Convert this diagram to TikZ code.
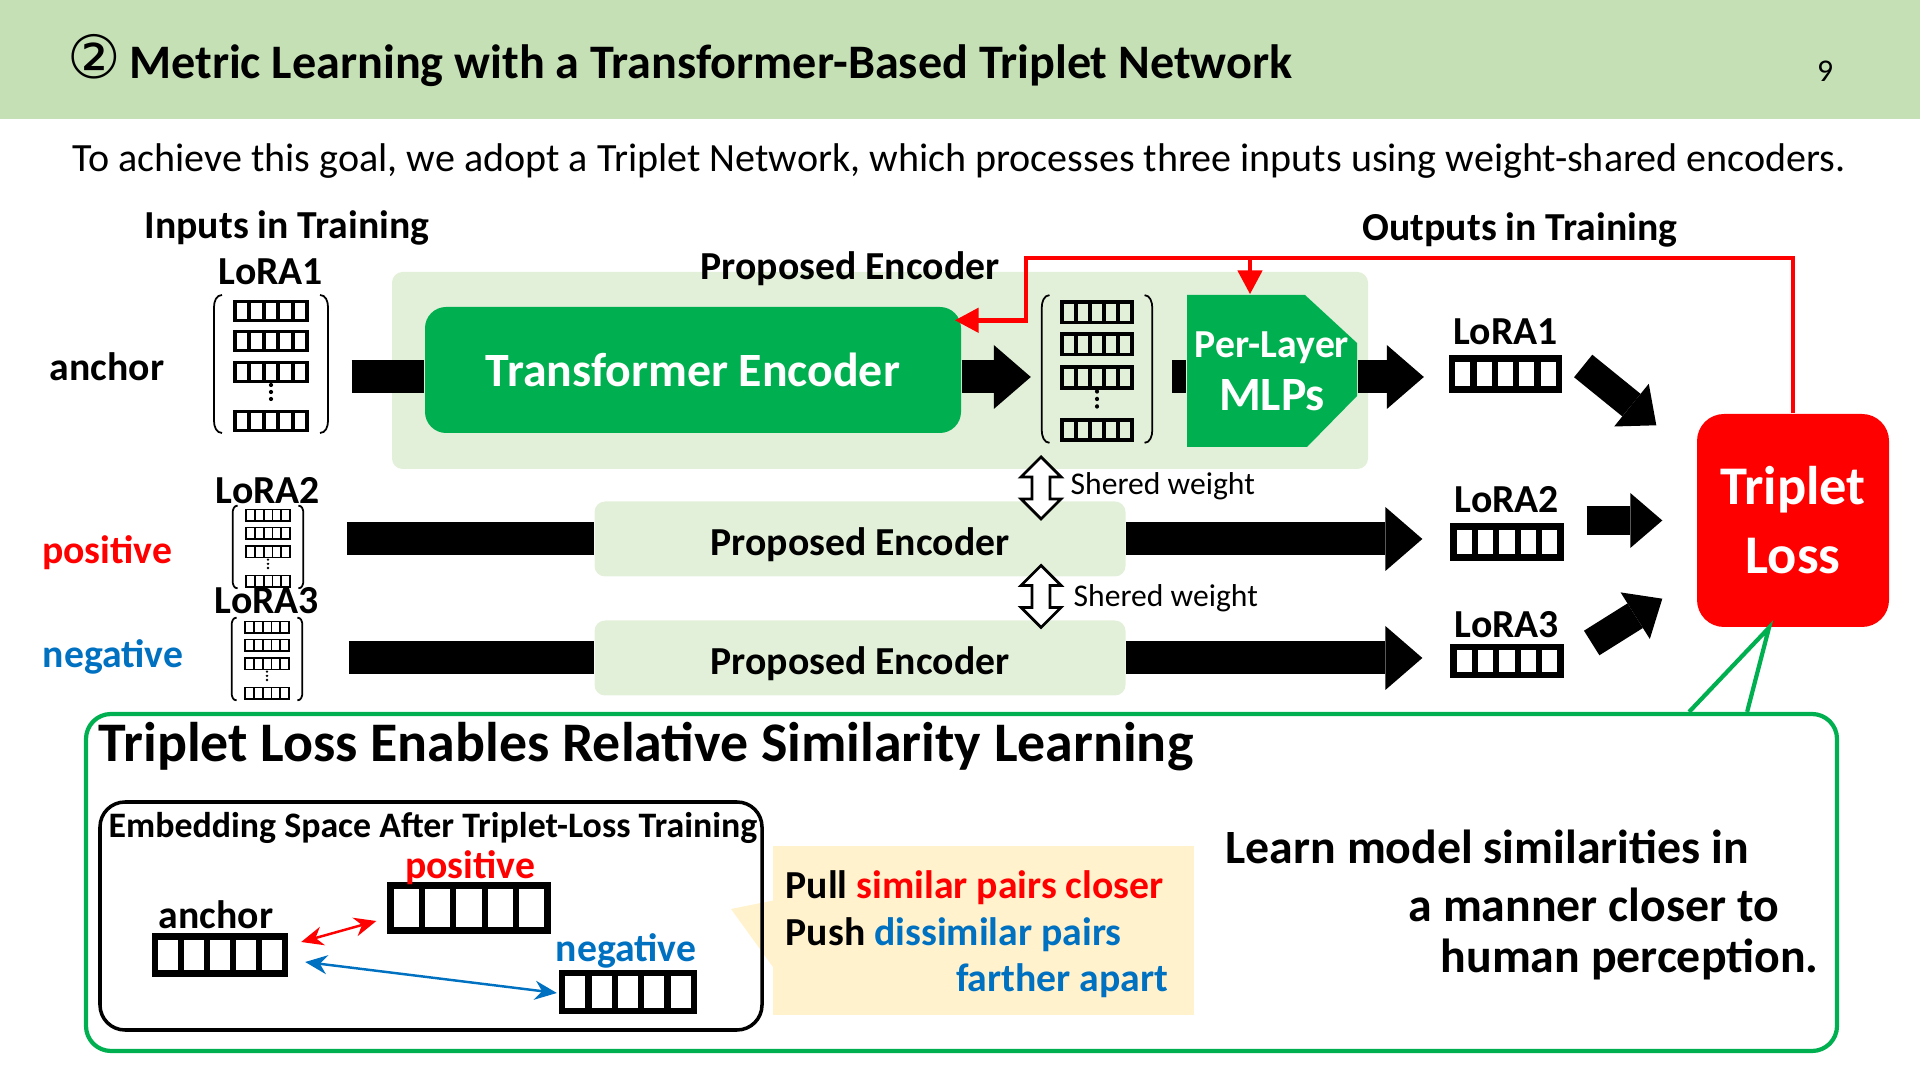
\documentclass[tikz,border=0pt]{standalone}
\usepackage{fontspec}
\setmainfont{Carlito}
\newfontfamily\circfont{DejaVu Sans}
\usepackage{tikz}
\usetikzlibrary{positioning,arrows.meta,calc}
\definecolor{headgreen}{HTML}{C5E0B4}
\definecolor{encpale}{HTML}{E2F0D9}
\definecolor{encgreen}{HTML}{00B050}
\definecolor{lossred}{HTML}{FF0000}
\definecolor{negblue}{HTML}{0070C0}
\definecolor{notebg}{HTML}{FFF2CC}
\tikzset{
  lbl/.style={inner sep=0pt, font=\bfseries\fontsize{11.3}{13}\selectfont},
  plain/.style={inner sep=0pt, font=\fontsize{11.4}{13}\selectfont},
  encbox/.style={fill=encpale, rounded corners=3pt},
  matbox/.style={inner sep=0pt, minimum width=1.14cm, minimum height=1.38cm},
  lmat/.pic={
    \foreach \ry in {0.53,0.23,-0.08,-0.57} {
      \draw (-0.36,\ry-0.095) rectangle (0.36,\ry+0.095);
      \foreach \k in {1,...,4} \draw (-0.36+0.144*\k,\ry-0.095) -- ++(0,0.19);
    }
    \foreach \dy in {-0.21,-0.28,-0.35} \fill (0,\dy) circle (0.6pt);
    \draw[line width=0.5pt] (-0.49,0.69) to[out=180,in=90] (-0.57,0.57) -- (-0.57,-0.57) to[out=-90,in=180] (-0.49,-0.69);
    \draw[line width=0.5pt] (0.49,0.69) to[out=0,in=90] (0.57,0.57) -- (0.57,-0.57) to[out=-90,in=0] (0.49,-0.69);
  },
  sharrow/.pic={
    \draw[fill=white, line width=0.8pt] (0,0.31) -- (0.2,0.11) -- (0.09,0.11) -- (0.09,-0.11) -- (0.2,-0.11) -- (0,-0.31)
      -- (-0.2,-0.11) -- (-0.09,-0.11) -- (-0.09,0.11) -- (-0.2,0.11) -- cycle;
  },
  ovec/.style={draw, line width=1.8pt, inner sep=0pt, minimum width=1.07cm, minimum height=0.31cm,
    path picture={\foreach \k in {1,...,4} \draw[line width=1.8pt]
      ($(path picture bounding box.south west)!\k/5!(path picture bounding box.south east)$) --
      ($(path picture bounding box.north west)!\k/5!(path picture bounding box.north east)$);}},
  bar/.style={line width=3.3mm},
  bigarr/.style={bar, -{Triangle[length=3.7mm, width=6.4mm, line width=0pt]}},
  midarr/.style={line width=2.9mm, -{Triangle[length=3.2mm, width=5.5mm, line width=0pt]}},
  fbline/.style={draw=lossred, line width=1.4pt},
  fbtip/.style={-{Triangle[length=2.4mm, width=2.4mm]}},
  simarr/.style={line width=0.7pt, {Stealth[length=2.2mm, width=1.9mm]}-{Stealth[length=2.2mm, width=1.9mm]}},
}
\begin{document}
\begin{tikzpicture}[x=1cm, y=1cm,
  pebox/.style={encbox, lbl, minimum width=5.31cm, minimum height=0.75cm, text height=9.5pt, text depth=0pt},
  mlpbox/.style={text=white, inner sep=0pt, minimum width=1.70cm, minimum height=1.52cm, align=center,
    font=\bfseries\fontsize{11.3}{15}\selectfont}]
  \useasboundingbox (0,0) rectangle (19.2,10.8);
  % title band and lead sentence
  \fill[headgreen] (0,9.61) rectangle (19.2,10.8);
  \node[anchor=west, inner sep=0pt, font=\bfseries\fontsize{13.7}{16}\selectfont] (title) at (0.67,10.19)
    {{\circfont\mdseries\fontsize{17}{17}\selectfont ②}\,Metric Learning with a Transformer-Based Triplet Network};
  \node[inner sep=0pt, font=\fontsize{9}{11}\selectfont] (pgno) at (18.25,10.09) {9};
  \node[plain] (lead) at (9.59,9.19) {To achieve this goal, we adopt a Triplet Network, which processes three inputs using weight-shared encoders.};
  \node[lbl] (intr) at (2.87,8.52) {Inputs in Training};
  \node[lbl] (outtr) at (15.20,8.50) {Outputs in Training};
  % anchor row: the proposed encoder in detail
  \coordinate (arow) at (0,7.03);
  \node[encbox, minimum width=9.76cm, minimum height=1.97cm] (encblk) at (8.80,7.095) {};
  \node[lbl] (enclbl) at (8.50,8.11) {Proposed Encoder};
  \node[fill=encgreen, rounded corners=6pt, minimum width=5.36cm, minimum height=1.26cm, text=white,
    font=\bfseries\fontsize{13.6}{16}\selectfont] (te) at (6.93,7.10) {Transformer Encoder\hspace{0.2cm}};
  \node[matbox] (m1) at (2.71,7.16) {};
  \pic[line width=1.1pt] at (m1) {lmat};
  \node[lbl, above=0.9mm of m1] (lin1) {LoRA1};
  \node[matbox, minimum width=1.11cm, minimum height=1.48cm] (mid) at (10.97,7.11) {};
  \pic[xscale=0.97, yscale=1.07, line width=1.1pt] at (mid) {lmat};
  \coordinate (mlpc) at (12.72,7.09);
  \fill[encgreen] ($(mlpc)+(-0.85,0.76)$) -- ($(mlpc)+(0.33,0.76)$) -- ($(mlpc)+(0.85,0.28)$) -- ($(mlpc)+(0.85,-0.25)$)
    -- ($(mlpc)+(0.35,-0.76)$) -- ($(mlpc)+(-0.85,-0.76)$) -- cycle;
  \node[mlpbox] (mlp) at (mlpc) {Per-Layer\\{\fontsize{13.6}{15}\selectfont MLPs}};
  \node[ovec] (o1) at (15.055,7.06) {};
  \node[lbl, above=1mm of o1] (lout1) {LoRA1};
  \draw[bar] ($(m1.east |- arow)+(0.23,0)$) -- (te.west |- arow);
  \draw[bigarr] (te.east |- arow) -- ($(mid.west |- arow)+(-0.1,0)$);
  \draw[bar] ($(mid.east |- arow)+(0.19,0)$) -- (mlp.west |- arow);
  \draw[bigarr] (mlp.east |- arow) -- ($(o1.west |- arow)+(-0.25,0)$);
  % positive and negative rows
  \node[matbox, minimum width=0.71cm, minimum height=0.83cm] (m2) at (2.68,5.33) {};
  \pic[xscale=0.62, yscale=0.6, line width=0.55pt] at (m2) {lmat};
  \node[lbl, above=0pt of m2] (lin2) {LoRA2};
  \node[matbox, minimum width=0.71cm, minimum height=0.82cm] (m3) at (2.67,4.21) {};
  \pic[xscale=0.62, yscale=0.6, line width=0.55pt] at (m3) {lmat};
  \node[lbl, above=0.3mm of m3] (lin3) {LoRA3};
  \node[pebox] (pe2) at (8.60,5.41) {Proposed Encoder};
  \node[pebox] (pe3) at (8.60,4.22) {Proposed Encoder};
  \node[ovec] (o2) at (15.07,5.38) {};
  \node[lbl, above=1mm of o2] (lout2) {LoRA2};
  \node[ovec, minimum height=0.28cm] (o3) at (15.07,4.19) {};
  \node[lbl, above=0.5mm of o3] (lout3) {LoRA3};
  \draw[bar] ($(pe2.west)+(-2.47,0)$) -- (pe2.west);
  \draw[bar] ($(pe3.west)+(-2.45,0)$) -- (pe3.west);
  \draw[bigarr] (pe2.east) -- ($(pe2.east -| o2.west)+(-0.28,0)$);
  \draw[bigarr] (pe3.east) -- ($(pe3.east -| o3.west)+(-0.28,0)$);
  \node[lbl] (ranc) at (1.07,7.13) {anchor};
  \node[lbl, text=lossred] (rpos) at (1.07,5.27) {positive};
  \node[lbl, text=negblue] (rneg) at (1.13,4.23) {negative};
  % shared weights
  \pic at (10.41,5.92) {sharrow};
  \node[anchor=west, inner sep=0pt, font=\fontsize{9}{11}\selectfont] (sw1) at (10.70,5.94) {Shered weight};
  \pic at (10.41,4.835) {sharrow};
  \node[anchor=west, inner sep=0pt, font=\fontsize{9}{11}\selectfont] (sw2) at (10.73,4.82) {Shered weight};
  % triplet loss and its feedback
  \node[fill=lossred, rounded corners=2.7mm, minimum width=1.92cm, minimum height=2.13cm, text=white, align=center,
    font=\bfseries\fontsize{15.5}{19.6}\selectfont] (loss) at (17.93,5.595) {Triplet\\Loss};
  \draw[midarr] ($(o1.east)+(0.21,0.08)$) -- ($(loss.north west)+(-0.40,-0.12)$);
  \draw[midarr] ($(o2.east |- loss.west)+(0.23,0)$) -- ($(loss.west)+(-0.34,0)$);
  \draw[midarr] ($(o3.east)+(0.28,0.18)$) -- ($(loss.south west)+(-0.34,0.29)$);
  \coordinate (fbturn) at (10.26,8.22);
  \coordinate (mlptop) at ($(mlp.north)+(-0.22,0)$);
  \draw[fbline, fbtip] (loss.north) |- (fbturn) |- ($(te.north east)+(-0.07,-0.14)$);
  \draw[fbline, fbtip] (mlptop |- fbturn) -- (mlptop);
  % summary panel below
  \node[draw=encgreen, line width=1.2pt, rounded corners=2.5mm, minimum width=17.51cm, minimum height=3.37cm] (sumbox) at (9.615,1.975) {};
  \draw[encgreen, line width=1.2pt] ($(sumbox.north east)+(-1.50,0)$) -- ($(loss.south)+(-0.24,0)$) -- ($(sumbox.north east)+(-0.92,0)$);
  \node[anchor=west, inner sep=0pt, font=\bfseries\fontsize{15.9}{19}\selectfont] (sumhead) at (0.98,3.33)
    {Triplet Loss Enables Relative Similarity Learning};
  \node[fill=notebg, minimum width=4.21cm, minimum height=1.69cm] (note) at (9.835,1.495) {};
  \coordinate (notetip) at (7.31,1.71);
  \fill[notebg] ($(note.west)+(0.01,0.30)$) -- (notetip) -- ($(note.west)+(0.01,-0.37)$) -- cycle;
  \node[draw, line width=1pt, rounded corners=2.5mm, minimum width=6.62cm, minimum height=2.28cm] (embox) at (4.31,1.64) {};
  \node[anchor=west, inner sep=0pt, font=\bfseries\fontsize{10.2}{12}\selectfont] (emlbl) at (1.08,2.52)
    {Embedding Space After Triplet-Loss Training};
  \node[ovec, minimum width=1.30cm, minimum height=0.37cm] (av) at (2.20,1.25) {};
  \node[ovec, minimum width=1.57cm, minimum height=0.45cm] (pv) at (4.69,1.72) {};
  \node[ovec, minimum width=1.32cm, minimum height=0.38cm] (nv) at (6.28,0.88) {};
  \node[lbl] (alab) at (2.16,1.65) {anchor};
  \node[lbl, text=lossred] (plab) at (4.70,2.12) {positive};
  \node[lbl, text=negblue] (nlab) at (6.26,1.29) {negative};
  \draw[simarr, lossred] ($(av.east)+(0.13,0.13)$) -- ($(pv.west)+(-0.11,-0.13)$);
  \draw[simarr, negblue] ($(av.east)+(0.17,-0.07)$) -- ($(nv.west)+(-0.02,-0.01)$);
  \node[lbl, anchor=west] (pull) at (7.85,1.92) {Pull \textcolor{lossred}{similar pairs closer}};
  \node[lbl, anchor=west] (push) at (7.85,1.45) {Push \textcolor{negblue}{dissimilar pairs}};
  \node[lbl, anchor=east, text=negblue] (apart) at (11.69,0.99) {farther apart};
  \node[anchor=west, inner sep=0pt, font=\bfseries\fontsize{13.6}{16}\selectfont] (learn1) at (12.25,2.33) {Learn model similarities in};
  \node[anchor=west, inner sep=0pt, font=\bfseries\fontsize{13.6}{16}\selectfont] (learn2) at (14.08,1.75) {a manner closer to};
  \node[anchor=west, inner sep=0pt, font=\bfseries\fontsize{13.6}{16}\selectfont] (learn3) at (14.40,1.21) {human perception.};
\end{tikzpicture}
\end{document}
